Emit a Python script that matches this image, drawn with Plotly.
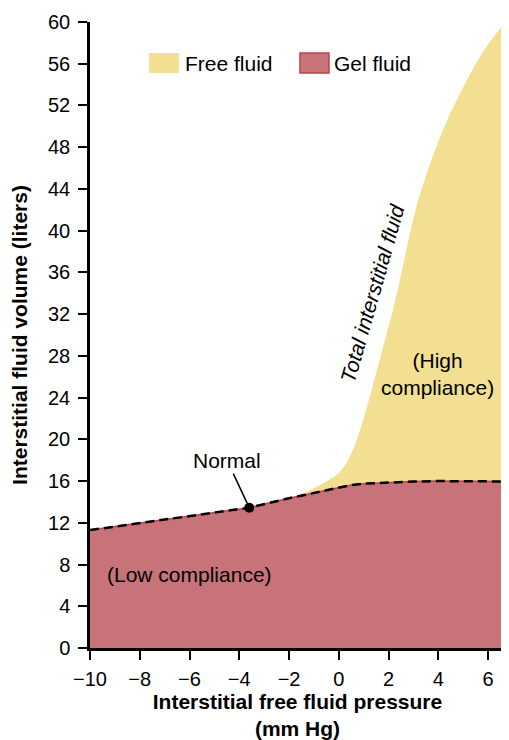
import plotly.graph_objects as go

# Data
gel_x = [-10, -3.6, -2, 0, 0.5, 1, 2, 3, 4, 5, 6.68]
gel_y = [11.3, 13.45, 14.35, 15.42, 15.62, 15.75, 15.88, 15.95, 16.0, 16.0, 15.96]

total_x = [-10, -3.6, -2, -1.5, -1.0, -0.5, 0, 0.35, 0.7, 1.0, 1.35, 1.7, 2.2,
           2.55, 2.85, 3.13, 3.8, 4.47, 5.14, 5.81, 6.68]
total_y = [11.3, 13.45, 14.35, 14.75, 15.3, 15.95, 16.8, 17.9, 19.8, 22.0, 25.0,
           28.1, 32.6, 36.3, 39.6, 42.4, 47.3, 51.2, 54.4, 57.2, 60.0]

normal_x = [-3.6]
normal_y = [13.45]

x_ticks = [-10, -8, -6, -4, -2, 0, 2, 4, 6]
y_ticks = list(range(0, 61, 4))

X_MAX = 6.68
FONT = "Liberation Sans, Arial, sans-serif"
YELLOW = "#F2DF92"
RED_FILL = "#C87279"
RED_LINE = "#C2404C"
TXT = 21

fig = go.Figure()

# Total interstitial fluid (free fluid area)
fig.add_trace(go.Scatter(
    x=total_x, y=total_y, mode="lines", fill="tozeroy",
    fillcolor=YELLOW, line=dict(color=YELLOW, width=0, shape="spline", smoothing=0.7),
    name="Free fluid", showlegend=False, hoverinfo="skip"))

# Gel fluid area (closed down the right edge)
fig.add_trace(go.Scatter(
    x=gel_x + [gel_x[-1]], y=gel_y + [0], mode="lines", fill="tozeroy",
    fillcolor=RED_FILL, line=dict(color=RED_LINE, width=1.5),
    name="Gel fluid", showlegend=False, hoverinfo="skip"))

# Dashed boundary
fig.add_trace(go.Scatter(
    x=gel_x, y=gel_y, mode="lines",
    line=dict(color="black", width=2.5, dash="9px,5px"),
    showlegend=False, hoverinfo="skip"))

# Normal point
fig.add_trace(go.Scatter(
    x=normal_x, y=normal_y, mode="markers",
    marker=dict(color="black", size=10), showlegend=False, hoverinfo="skip"))

annotations = [
    dict(x=normal_x[0], y=normal_y[0], text="Normal", showarrow=True,
         arrowhead=0, arrowwidth=1.5, arrowcolor="black", ax=-22, ay=-47,
         standoff=5, font=dict(size=TXT, family=FONT, color="black")),
    dict(x=-6.02, y=7.0, text="(Low compliance)", showarrow=False,
         font=dict(size=TXT, family=FONT, color="black")),
    dict(x=3.97, y=26.3, text="(High<br>compliance)", showarrow=False,
         font=dict(size=TXT, family=FONT, color="black")),
    dict(x=1.34, y=34.0, text="<i>Total interstitial fluid</i>", showarrow=False,
         textangle=-74, font=dict(size=TXT, family=FONT, color="black")),
    # legend labels
    dict(xref="paper", yref="paper", x=(183 - 90) / 415, y=1 - (63 - 22) / 626,
         xanchor="left", yanchor="middle", text="Free fluid", showarrow=False,
         font=dict(size=TXT, family=FONT, color="black")),
    dict(xref="paper", yref="paper", x=(332 - 90) / 415, y=1 - (63 - 22) / 626,
         xanchor="left", yanchor="middle", text="Gel fluid", showarrow=False,
         font=dict(size=TXT, family=FONT, color="black")),
]

shapes = [
    dict(type="rect", xref="paper", yref="paper",
         x0=(149 - 90) / 415, x1=(179 - 90) / 415,
         y0=1 - (73 - 22) / 626, y1=1 - (53 - 22) / 626,
         fillcolor=YELLOW, line=dict(width=0)),
    dict(type="rect", xref="paper", yref="paper",
         x0=(300 - 90) / 415, x1=(329 - 90) / 415,
         y0=1 - (73 - 22) / 626, y1=1 - (53 - 22) / 626,
         fillcolor=RED_FILL, line=dict(color=RED_LINE, width=1.5)),
]

# page body has an 8px margin, so the figure is 8px smaller than the window
fig.update_layout(
    width=501, height=732,
    margin=dict(l=82, r=4, t=14, b=92),
    paper_bgcolor="white", plot_bgcolor="white",
    font=dict(family=FONT, size=20, color="black"),
    showlegend=False,
    annotations=annotations, shapes=shapes,
    xaxis=dict(range=[-10, X_MAX], tickvals=x_ticks, showgrid=False, zeroline=False,
               showline=True, linecolor="black", linewidth=2.5,
               ticks="outside", ticklen=9, tickwidth=2, tickcolor="black",
               ticklabelstandoff=2, automargin=False,
               tickfont=dict(size=20, family=FONT, color="black"),
               title=dict(text="<b>Interstitial free fluid pressure<br>(mm Hg)</b>",
                          font=dict(size=21, family=FONT, color="black"), standoff=11)),
    yaxis=dict(range=[0, 60], tickvals=y_ticks, showgrid=False, zeroline=False,
               showline=True, linecolor="black", linewidth=2.5,
               ticks="outside", ticklen=9, tickwidth=2, tickcolor="black",
               ticklabelstandoff=4, automargin=False,
               tickfont=dict(size=20, family=FONT, color="black"),
               title=dict(text="<b>Interstitial fluid volume (liters)</b>",
                          font=dict(size=21, family=FONT, color="black"), standoff=16)),
)

fig.write_html("out.html")
